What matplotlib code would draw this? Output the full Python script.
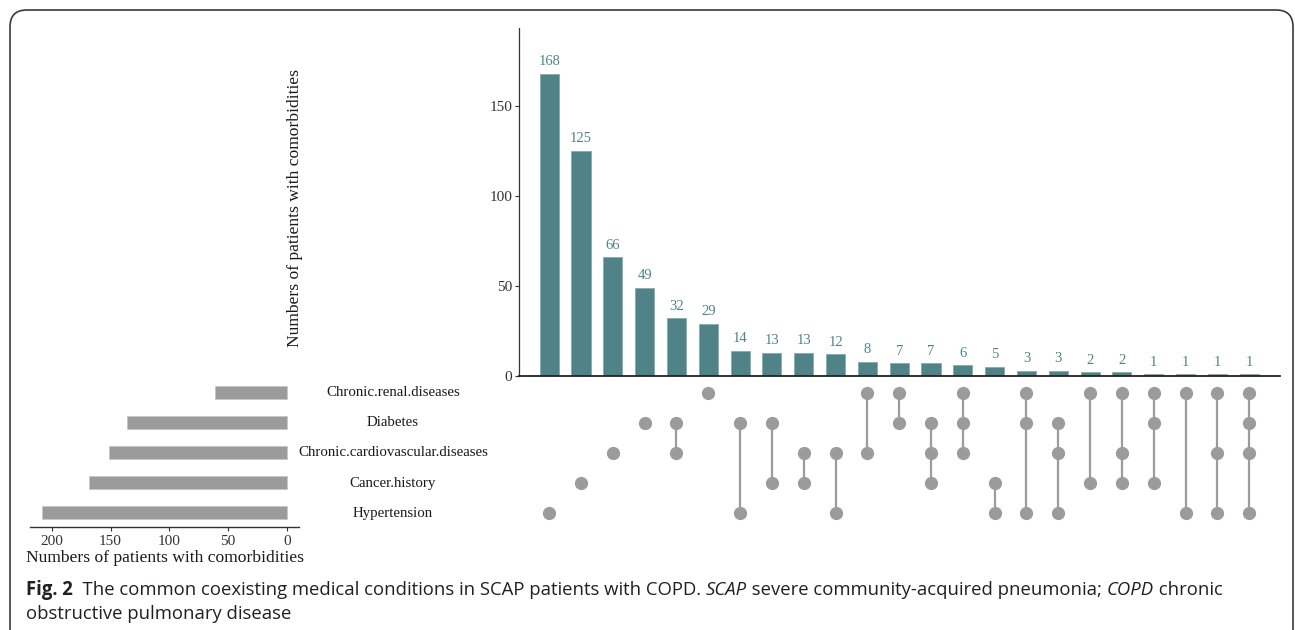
import numpy as np
import matplotlib
matplotlib.use('Agg')
import matplotlib.pyplot as plt
from matplotlib.patches import FancyBboxPatch

# sets (bottom to top in the matrix) and their sizes
sets = ['Hypertension', 'Cancer.history', 'Chronic.cardiovascular.diseases',
        'Diabetes', 'Chronic.renal.diseases']
set_sizes = [208, 168, 151, 136, 61]

# intersection sizes and the sets they contain
inter_counts = [168, 125, 66, 49, 32, 29, 14, 13, 13, 12, 8, 7, 7, 6, 5, 3, 3, 2, 2, 1, 1, 1, 1]
inter_members = [
    ['Hypertension'],
    ['Cancer.history'],
    ['Chronic.cardiovascular.diseases'],
    ['Diabetes'],
    ['Diabetes', 'Chronic.cardiovascular.diseases'],
    ['Chronic.renal.diseases'],
    ['Diabetes', 'Hypertension'],
    ['Diabetes', 'Cancer.history'],
    ['Chronic.cardiovascular.diseases', 'Cancer.history'],
    ['Chronic.cardiovascular.diseases', 'Hypertension'],
    ['Chronic.renal.diseases', 'Chronic.cardiovascular.diseases'],
    ['Chronic.renal.diseases', 'Diabetes'],
    ['Diabetes', 'Chronic.cardiovascular.diseases', 'Cancer.history'],
    ['Chronic.renal.diseases', 'Diabetes', 'Chronic.cardiovascular.diseases'],
    ['Cancer.history', 'Hypertension'],
    ['Chronic.renal.diseases', 'Diabetes', 'Hypertension'],
    ['Diabetes', 'Chronic.cardiovascular.diseases', 'Hypertension'],
    ['Chronic.renal.diseases', 'Cancer.history'],
    ['Chronic.renal.diseases', 'Chronic.cardiovascular.diseases', 'Cancer.history'],
    ['Chronic.renal.diseases', 'Diabetes', 'Cancer.history'],
    ['Chronic.renal.diseases', 'Hypertension'],
    ['Chronic.renal.diseases', 'Chronic.cardiovascular.diseases', 'Hypertension'],
    ['Chronic.renal.diseases', 'Diabetes', 'Chronic.cardiovascular.diseases', 'Hypertension'],
]

teal = '#4f8387'
grey = '#9b9b9b'
serif = 'Liberation Serif'

W, H = 1295, 630
fig = plt.figure(figsize=(W / 100, H / 100), dpi=100)


def box(x0, y0, x1, y1):
    # pixel box (top-left origin) -> figure fraction rect
    return [x0 / W, 1 - y1 / H, (x1 - x0) / W, (y1 - y0) / H]


# frame around the figure
frame = FancyBboxPatch((10 / W, -0.2), 1283 / W, 1.2 - 10 / H,
                       boxstyle='round,pad=0,rounding_size=0.013',
                       transform=fig.transFigure, fill=False,
                       edgecolor='#3a3a3a', linewidth=1.2, mutation_aspect=W / H)
fig.patches.append(frame)

n = len(inter_counts)
xs = np.arange(n)
xlim = (-0.95, n - 1 + 0.97)

# intersection size bars
ax_top = fig.add_axes(box(519, 28, 1280, 376))
ax_top.bar(xs, inter_counts, width=0.6, color=teal, edgecolor='#86abad', linewidth=0.6)
for x, c in zip(xs, inter_counts):
    ax_top.annotate(str(c), (x, c), xytext=(0, 4), textcoords='offset points',
                    ha='center', va='bottom', color=teal, fontsize=10.5, family=serif)
ax_top.set_xlim(xlim)
ax_top.set_ylim(0, 193.3)
ax_top.set_yticks([0, 50, 100, 150])
ax_top.set_xticks([])
for s in ['top', 'right']:
    ax_top.spines[s].set_visible(False)
ax_top.spines['left'].set_color('#333333')
ax_top.spines['left'].set_linewidth(0.9)
ax_top.spines['bottom'].set_color('#222222')
ax_top.spines['bottom'].set_linewidth(1.3)
ax_top.tick_params(axis='y', length=3, width=0.8, color='#333333', labelsize=11,
                   labelcolor='#333333', pad=2)
for lab in ax_top.get_yticklabels():
    lab.set_family(serif)

fig.text(295 / W, 1 - 208 / H, 'Numbers of patients with comorbidities', rotation=90,
         ha='center', va='center', fontsize=12.6, family=serif, color='#1a1a1a')

# membership matrix
ax_mat = fig.add_axes(box(519, 378, 1280, 528))
ax_mat.set_xlim(xlim)
ax_mat.set_ylim(-0.5, len(sets) - 0.5)
for x, members in zip(xs, inter_members):
    rows = [sets.index(m) for m in members]
    if len(rows) > 1:
        ax_mat.plot([x, x], [min(rows), max(rows)], color=grey, linewidth=1.6, zorder=1)
    ax_mat.plot([x] * len(rows), rows, 'o', color=grey, markersize=8.5, zorder=2)
ax_mat.axis('off')

# set size bars
ax_set = fig.add_axes(box(30, 378, 299, 527))
ax_set.barh(np.arange(len(sets)), set_sizes, height=0.43, color=grey, edgecolor='#c8c8c8',
            linewidth=0.6)
ax_set.set_ylim(-0.5, len(sets) - 0.5)
ax_set.set_xlim(218.5, -10.3)
ax_set.set_xticks([200, 150, 100, 50, 0])
ax_set.set_yticks([])
for s in ['top', 'right', 'left']:
    ax_set.spines[s].set_visible(False)
ax_set.spines['bottom'].set_color('#333333')
ax_set.spines['bottom'].set_linewidth(1.0)
ax_set.tick_params(axis='x', length=3, width=0.8, color='#333333', labelsize=11,
                   labelcolor='#333333', pad=3)
for lab in ax_set.get_xticklabels():
    lab.set_family(serif)
ax_set.set_xlabel('Numbers of patients with comorbidities', fontsize=12.6, family=serif,
                  color='#1a1a1a', labelpad=1)

# set names between the two panels
for i, name in enumerate(sets):
    y = 513 - 30 * i
    fig.text(393 / W, 1 - y / H, name, ha='center', va='center', fontsize=10.7,
             family=serif, color='#1a1a1a')

# caption, pieced together to mix bold / italic runs
cap_font = 'Open Sans'
cap_size = 13.35
renderer = fig.canvas.get_renderer()


def caption_line(parts, x0, y):
    x = x0
    for txt, weight, style in parts:
        t = fig.text(x / W, 1 - y / H, txt, fontsize=cap_size, family=cap_font,
                     weight=weight, style=style, ha='left', va='center', color='#231f20')
        bb = t.get_window_extent(renderer=renderer)
        x += bb.width


caption_line([
    ('Fig. 2', 'bold', 'normal'),
    ('  The common coexisting medical conditions in SCAP patients with COPD. ', 'normal', 'normal'),
    ('SCAP', 'normal', 'italic'),
    (' severe community-acquired pneumonia; ', 'normal', 'normal'),
    ('COPD', 'normal', 'italic'),
    (' chronic', 'normal', 'normal'),
], 26, 590)
caption_line([('obstructive pulmonary disease', 'normal', 'normal')], 26, 614)

fig.savefig('out.png', dpi=100)
